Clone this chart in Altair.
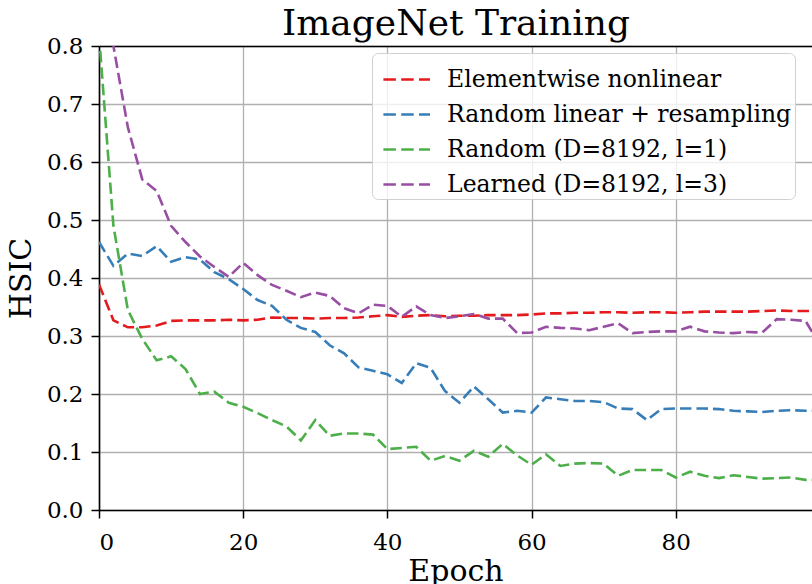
import altair as alt
import pandas as pd

epochs = list(range(0, 101, 2))

series_names = [
    "Elementwise nonlinear",
    "Random linear + resampling",
    "Random (D=8192, l=1)",
    "Learned (D=8192, l=3)",
]
series_colors = ["#e41a1c", "#377eb8", "#4daf4a", "#984ea3"]

elementwise = [0.389, 0.327, 0.315, 0.315, 0.318, 0.326, 0.327, 0.327, 0.327, 0.328,
               0.327, 0.328, 0.332, 0.331, 0.331, 0.330, 0.331, 0.331, 0.332, 0.334,
               0.336, 0.333, 0.335, 0.336, 0.334, 0.335, 0.335, 0.336, 0.336, 0.336,
               0.337, 0.339, 0.339, 0.340, 0.340, 0.341, 0.341, 0.340, 0.341, 0.341,
               0.340, 0.341, 0.342, 0.342, 0.342, 0.342, 0.343, 0.344, 0.343, 0.343,
               0.343]
random_linear = [0.462, 0.421, 0.442, 0.438, 0.455, 0.428, 0.436, 0.432, 0.410, 0.398,
                 0.381, 0.362, 0.352, 0.328, 0.314, 0.307, 0.284, 0.270, 0.246, 0.240,
                 0.234, 0.219, 0.253, 0.245, 0.205, 0.185, 0.213, 0.191, 0.168, 0.171,
                 0.168, 0.194, 0.191, 0.188, 0.188, 0.186, 0.175, 0.174, 0.155, 0.174,
                 0.175, 0.175, 0.175, 0.174, 0.171, 0.170, 0.169, 0.171, 0.172, 0.171,
                 0.171]
random_l1 = [0.82, 0.49, 0.345, 0.295, 0.258, 0.265, 0.243, 0.200, 0.204, 0.185,
             0.178, 0.167, 0.155, 0.144, 0.120, 0.155, 0.128, 0.132, 0.132, 0.130,
             0.105, 0.107, 0.109, 0.085, 0.093, 0.085, 0.102, 0.092, 0.114, 0.094,
             0.078, 0.096, 0.076, 0.080, 0.081, 0.080, 0.059, 0.069, 0.069, 0.069,
             0.056, 0.066, 0.059, 0.055, 0.060, 0.057, 0.054, 0.055, 0.056, 0.052,
             0.052]
learned_l3 = [0.95, 0.80, 0.66, 0.57, 0.55, 0.49, 0.462, 0.437, 0.419, 0.402,
              0.426, 0.405, 0.388, 0.378, 0.367, 0.375, 0.369, 0.348, 0.339, 0.354,
              0.352, 0.333, 0.351, 0.336, 0.331, 0.334, 0.338, 0.330, 0.330, 0.305,
              0.306, 0.316, 0.314, 0.313, 0.310, 0.316, 0.322, 0.305, 0.307, 0.308,
              0.308, 0.316, 0.308, 0.306, 0.305, 0.307, 0.306, 0.329, 0.328, 0.326,
              0.284]

x_ticks = [0, 20, 40, 60, 80]
y_ticks = [0.0, 0.1, 0.2, 0.3, 0.4, 0.5, 0.6, 0.7, 0.8]

rows = []
for name, vals in zip(series_names, [elementwise, random_linear, random_l1, learned_l3]):
    for e, v in zip(epochs, vals):
        rows.append({"Epoch": e, "HSIC": v, "Method": name})
df = pd.DataFrame(rows)

FONT = "DejaVu Serif"

x_scale = alt.Scale(domain=[0, 98.9], nice=False, zero=False)
y_scale = alt.Scale(domain=[0, 0.8], nice=False)

lines = alt.Chart(df).mark_line(
    clip=True, strokeWidth=2.6, strokeDash=[11.5, 5]
).encode(
    x=alt.X("Epoch:Q", scale=x_scale,
            axis=alt.Axis(values=x_ticks, format="d", title="Epoch", orient="bottom",
                          labelPadding=13, titlePadding=2)),
    y=alt.Y("HSIC:Q", scale=y_scale,
            axis=alt.Axis(values=y_ticks, format=".1f", title="HSIC",
                          titlePadding=10)),
    color=alt.Color("Method:N",
                    scale=alt.Scale(domain=series_names, range=series_colors),
                    legend=alt.Legend(title=None)),
    order=alt.Order("Epoch:Q"),
)

# invisible layer carrying the top spine and the chart title
top = alt.Chart(df).mark_line(opacity=0, clip=True).encode(
    x=alt.X("Epoch:Q", scale=x_scale,
            axis=alt.Axis(orient="top", grid=False, labels=False, ticks=False,
                          domain=True, title="ImageNet Training",
                          titleFontSize=36, titlePadding=12,
                          titleBaseline="alphabetic")),
    y=alt.Y("HSIC:Q", scale=y_scale),
    detail="Method:N",
)

chart = alt.layer(lines, top).resolve_axis(x="independent").properties(
    width=713,
    height=464,
    padding={"left": 99, "top": 46, "right": 0, "bottom": 74},
    autosize=alt.AutoSizeParams(type="none"),
).configure_view(
    stroke=None
).configure_axis(
    grid=True,
    gridColor="#b0b0b0",
    gridWidth=1.3,
    domainColor="black",
    domainWidth=1.6,
    tickColor="black",
    tickSize=8,
    tickWidth=1.5,
    labelFont=FONT,
    labelFontSize=23,
    labelColor="black",
    labelPadding=8,
    titleFont=FONT,
    titleFontSize=30,
    titleFontWeight="normal",
    titleColor="black",
    titlePadding=6,
).configure_legend(
    orient="none",
    legendX=273,
    legendY=7,
    padding=3,
    titlePadding=0,
    cornerRadius=6,
    strokeColor="#d0d0d0",
    fillColor="rgba(255,255,255,0.8)",
    symbolType="M-1.055,0H1.055",
    symbolSize=1950,
    symbolStrokeWidth=2.6,
    symbolFillColor="transparent",
    symbolDash=[12.5, 5.3],
    symbolOffset=8.2,
    labelFont=FONT,
    labelFontSize=23.5,
    labelColor="black",
    labelOffset=16.9,
    labelLimit=600,
    rowPadding=0,
)

chart.save("out.html", embed_options={"renderer": "svg", "actions": False})
